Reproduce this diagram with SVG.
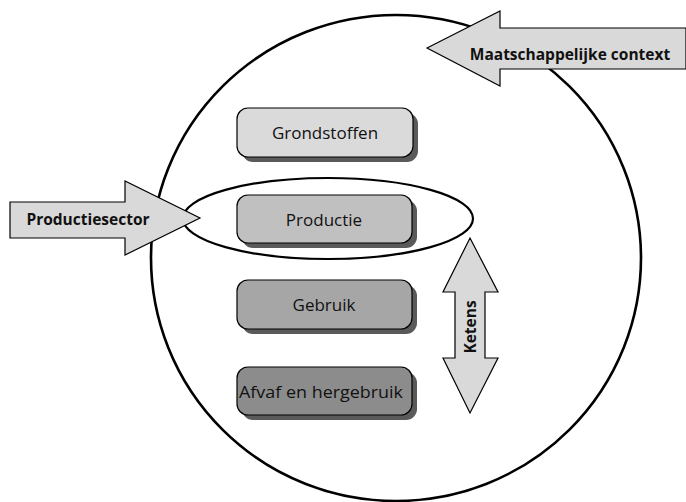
<svg xmlns="http://www.w3.org/2000/svg" width="686" height="502" viewBox="0 0 686 502">
<style>
.box{stroke:#000;stroke-width:1.2}
.shadow{fill:#5a5a5a}
.lbl{font-family:"Open Sans","Noto Sans",sans-serif;font-size:17px;fill:#111;text-anchor:middle}
.blbl{font-family:"Open Sans","Noto Sans",sans-serif;font-size:15.5px;font-weight:bold;fill:#111;text-anchor:middle}
.arrow{fill:#d9d9d9;stroke:#000;stroke-width:1.2;stroke-linejoin:miter}
.ring{fill:none;stroke:#000;stroke-width:2.6}
</style>
<rect width="686" height="502" fill="#fff"/>
<g id="context-circle"><ellipse class="ring" cx="396" cy="258" rx="245" ry="243"/></g>
<g id="grondstoffen">
<rect class="shadow" x="242" y="113" width="176" height="49" rx="11"/>
<rect class="box" x="237" y="108" width="176" height="49" rx="11" fill="#dadada"/>
<text class="lbl" x="325" y="138.5">Grondstoffen</text>
</g>
<g id="productie">
<rect class="shadow" x="242" y="200" width="175" height="48" rx="11"/>
<rect class="box" x="237" y="195" width="175" height="48" rx="11" fill="#c0c0c0"/>
<text class="lbl" x="324" y="225.5">Productie</text>
</g>
<g id="gebruik">
<rect class="shadow" x="242" y="285" width="175" height="49" rx="11"/>
<rect class="box" x="237" y="280" width="175" height="49" rx="11" fill="#a6a6a6"/>
<text class="lbl" x="324" y="310.5">Gebruik</text>
</g>
<g id="afval">
<rect class="shadow" x="242" y="372" width="175" height="48" rx="11"/>
<rect class="box" x="237" y="367" width="175" height="48" rx="11" fill="#8c8c8c"/>
<text class="lbl" x="321" y="397.5" textLength="164" lengthAdjust="spacingAndGlyphs">Afvaf en hergebruik</text>
</g>
<g id="productie-ellipse"><ellipse cx="328" cy="218.5" rx="145" ry="40.5" fill="none" stroke="#000" stroke-width="2.2"/></g>
<g id="connectors">
<g id="maatschappelijke-context">
<polygon class="arrow" points="427,48 500,11 500,28 686,28 686,69 500,69 500,86"/>
<text class="blbl" x="570" y="59.5">Maatschappelijke context</text>
</g>
<g id="productiesector">
<polygon class="arrow" points="10,202 125,202 125,181 200,218 125,255 125,238 10,238"/>
<text class="blbl" x="88" y="224.5">Productiesector</text>
</g>
<g id="ketens">
<polygon class="arrow" points="470,238 498,292 485,292 485,358 498,358 470,413 443,358 455,358 455,292 443,292"/>
<text class="blbl" transform="translate(475.5,327) rotate(-90)" x="0" y="0">Ketens</text>
</g>
</g>
</svg>
